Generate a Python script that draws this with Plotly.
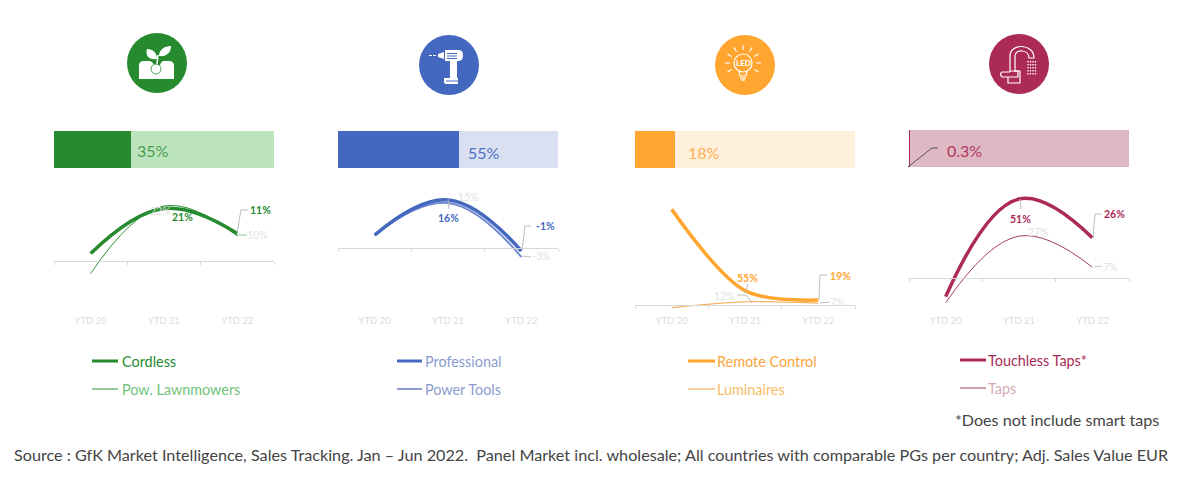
import re, math
import plotly.graph_objects as go

W, H = 1188, 490
periods = ["YTD 20", "YTD 21", "YTD 22"]

cordless = [3, 21, 11]
lawnmowers = [-5, 22, 10]
professional = [4.3, 16, -1]
power_tools = [4.3, 15, -3]
remote_control = [365, 55, 19]
luminaires = [-10, 12, 7]
touchless_taps = [-12, 51, 26]
taps = [-16, 27, 7]

shares = [35, 55, 18, 0.3]
share_labels = ["35%", "55%", "18%", "0.3%"]
thick_names = ["Cordless", "Professional", "Remote Control", "Touchless Taps*"]
thin_names = ["Pow. Lawnmowers", "Power Tools", "Luminaires", "Taps"]

dark = ["#268b2f", "#4468bf", "#ffa530", "#ac2a57"]
light = ["#bde5bd", "#d9e0f1", "#ffefdd", "#deb9c3"]
thin_col = ["#2f8f38", "#6f8ad0", "#f5a53f", "#a83a60"]
share_col = ["#47994f", "#4f70c2", "#ffb055", "#b5345f"]
thick_text = ["#268b2f", "#8b9dd0", "#f8a63c", "#a62b56"]
thin_text = ["#70c47a", "#8b9dd0", "#f9bd69", "#d5aab9"]

thick = [cordless, professional, remote_control, touchless_taps]
thin = [lawnmowers, power_tools, luminaires, taps]

# layout geometry in pixels
left = [54, 338, 635, 909]
pw = 220
axis_y = [261, 248, 305, 278]
scale = [2.5, 3.0, 0.262, 1.55]
smooth = [1.2, 1.2, 0.9, 1.2]
plot_top = 180
plot_bottom = 318
bar_top = [131, 131, 131, 130]
bar_h = 37
tick_y = 321


def fx(p):
    return p / W


def fy(p):
    return 1 - p / H


fig = go.Figure()
layout = dict(
    width=W, height=H, margin=dict(l=0, r=0, t=0, b=0),
    paper_bgcolor="white", plot_bgcolor="rgba(0,0,0,0)",
    showlegend=False, barmode="stack", bargap=0,
    font=dict(family="Lato", color="#444444"),
)
ann = []
shapes = []

for i in range(4):
    a = 2 * i + 1
    b = 2 * i + 2
    xa, ya = f"x{a}", f"y{a}"
    xb, yb = f"x{b}", f"y{b}"
    # share bar
    fig.add_trace(go.Bar(y=["s"], x=[shares[i]], orientation="h", marker=dict(color=dark[i], line_width=0),
                         xaxis=xa, yaxis=ya, hoverinfo="skip"))
    fig.add_trace(go.Bar(y=["s"], x=[100 - shares[i]], orientation="h", marker=dict(color=light[i], line_width=0),
                         xaxis=xa, yaxis=ya, hoverinfo="skip"))
    layout[f"xaxis{a}"] = dict(domain=[fx(left[i]), fx(left[i] + pw)], range=[0, 100], visible=False, anchor=ya)
    layout[f"yaxis{a}"] = dict(domain=[fy(bar_top[i] + bar_h), fy(bar_top[i])], visible=False, anchor=xa,
                               range=[-0.5, 0.5])
    # lines
    fig.add_trace(go.Scatter(x=periods, y=thin[i], mode="lines", name=thin_names[i],
                             line=dict(color=thin_col[i], width=2 if i == 1 else 1, shape="spline",
                                       smoothing=smooth[i]),
                             xaxis=xb, yaxis=yb))
    fig.add_trace(go.Scatter(x=periods, y=thick[i], mode="lines", name=thick_names[i],
                             line=dict(color=dark[i], width=3.5, shape="spline", smoothing=smooth[i]),
                             xaxis=xb, yaxis=yb))
    layout[f"xaxis{b}"] = dict(
        domain=[fx(left[i]), fx(left[i] + pw)], anchor="free", position=fy(axis_y[i]), type="category",
        categoryorder="array", categoryarray=periods, range=[-0.5, 2.5],
        tickson="boundaries", ticks="outside", ticklen=3, tickcolor="#d9d9d9", tickwidth=1,
        showline=True, linecolor="#d9d9d9", linewidth=1, showgrid=False, zeroline=False,
        tickfont=dict(family="Lato", size=9.5, color="#dcdcdc"),
        ticklabelstandoff=int(tick_y - axis_y[i] - 9),
    )
    layout[f"yaxis{b}"] = dict(
        domain=[fy(plot_bottom), fy(plot_top)], anchor=xb,
        range=[-(plot_bottom - axis_y[i]) / scale[i], (axis_y[i] - plot_top) / scale[i]], visible=False,
    )


def text(x, y, s, color, size, anchor="center", bold=False):
    ann.append(dict(xref="paper", yref="paper", x=fx(x), y=fy(y), text=f"<b>{s}</b>" if bold else s,
                    showarrow=False, xanchor=anchor, yanchor="middle",
                    font=dict(family="Lato", size=size, color=color)))


# share labels
for (x, y), s, c in zip([(153, 150), (484, 153), (704, 153), (964, 150)], share_labels, share_col):
    text(x, y, s, c, 16)

# point labels: x, y, text, panel
strong = [(182, 217, "21%", 0), (260, 210, "11%", 0),
          (448, 218, "16%", 1), (545, 226, "-1%", 1),
          (747, 278, "55%", 2), (840, 276, "19%", 2),
          (1020, 219, "51%", 3), (1114, 214, "26%", 3)]
pale = [(160, 211, "22%"), (257, 235, "10%"), (468, 197, "15%"), (541, 256, "-3%"),
        (724, 296, "12%"), (837, 302, "7%"), (1038, 232, "27%"), (1110, 267, "7%")]
for x, y, s in pale:
    text(x, y, s, "#e2e2e2", 10.5)
for x, y, s, p in strong:
    text(x, y, s, dark[p], 10.5, bold=True)


def px_path(d, cx=0, cy=0):
    out = []
    n = 0
    for t in d.split():
        if re.fullmatch(r"[A-Za-z]", t):
            out.append(t)
        else:
            v = float(t)
            out.append(f"{fx(cx + v):.5f}" if n % 2 == 0 else f"{fy(cy + v):.5f}")
            n += 1
    res = []
    i = 0
    while i < len(out):
        if re.fullmatch(r"[A-Za-z]", out[i]):
            res.append(out[i])
            i += 1
        else:
            res.append(out[i] + "," + out[i + 1])
            i += 2
    return " ".join(res)


def stroke(d, color, width=1, cx=0, cy=0, dash=None):
    ln = dict(color=color, width=width)
    if dash:
        ln["dash"] = dash
    shapes.append(dict(type="path", xref="paper", yref="paper", path=px_path(d, cx, cy), line=ln,
                       fillcolor="rgba(0,0,0,0)"))


def fill(d, color, cx=0, cy=0):
    shapes.append(dict(type="path", xref="paper", yref="paper", path=px_path(d, cx, cy),
                       line=dict(width=0), fillcolor=color))


def circle(cx, cy, r, fc, lc=None, lw=0):
    shapes.append(dict(type="circle", xref="paper", yref="paper", x0=fx(cx - r), x1=fx(cx + r),
                       y0=fy(cy + r), y1=fy(cy - r), fillcolor=fc,
                       line=dict(color=lc or fc, width=lw)))


# leaders
lead = "#bdbdbd"
for d in ["M 237 233 L 241 210 L 248 210", "M 448 199 L 449 209", "M 522 250 L 525 226 L 531 226",
          "M 748 284 L 745 293", "M 819 300 L 820 275 L 827 275",
          "M 1020 199 L 1021 209", "M 1093 238 L 1095 214 L 1102 214"]:
    stroke(d, lead, 1)
stroke("M 752 303 L 746 295 L 737 295", lead, 1)
stroke("M 237 235 L 247 235", "#8cc596", 1)
stroke("M 522 256 L 531 257", lead, 1)
stroke("M 820 303 L 830 302", lead, 1)
stroke("M 1094 267 L 1102 266", "#b9c9c9", 1)
stroke("M 908 167 L 932 148 L 938 148", "#555555", 1)

# icons
W_ = "white"
# plant
c = (157, 63)
circle(*c, 30, dark[0])
fill("M -18 16 L -18 3 Q -18 -2 -13 -2 L -7 -2 Q -4 -1 -3 2 L 3 2 Q 4 -1 6 -2 L 12 -2 Q 17 -2 17 3 L 17 16 Z", W_, *c)
circle(c[0] - 1, c[1] + 6, 5, "white", dark[0], 0.8)
fill("M 0 -4 C -8 -3 -12 -7 -10 -14 C -4 -14 0 -10 0 -4 Z", W_, *c)
fill("M 2 -7 C 2 -13 7 -17 14 -17 C 14 -10 9 -6 2 -7 Z", W_, *c)
stroke("M 1 -8 L 0 1", W_, 1.5, *c)
# drill
c = (449, 65)
circle(*c, 30, dark[1])
fill("M -4 -15 L 9 -15 Q 14 -15 14 -10 Q 14 -4 9 -4 L -4 -4 Z", W_, *c)
fill("M -5 -13 L -5 -6 L -11 -8 L -11 -11 Z", W_, *c)
stroke("M -20 -9.5 L -12 -9.5", W_, 1.2, *c, dash="3px,1px")
for yy in (-11.5, -9, -6.5):
    stroke(f"M -2 {yy} L 8 {yy}", dark[1], 1, *c)
fill("M 1 -4 L 8 -4 L 8 13 L 1 13 Z", W_, *c)
fill("M -5 13 L 9 13 L 9 19 L -3 19 Q -5 19 -5 16 Z", W_, *c)
stroke("M -3 16 L 9 16", dark[1], 1, *c)
# LED bulb
c = (745, 65)
circle(*c, 30, dark[2])
circle(c[0] - 2, c[1] - 2, 9, "rgba(0,0,0,0)", W_, 1.2)
stroke("M -6 6 L -5 11 L 1 11 L 2 6", W_, 1.2, *c)
stroke("M -5 13 L 1 13", W_, 1.2, *c)
stroke("M -4 15 L 0 15", W_, 1.2, *c)
for deg in (-180, -150, -120, -90, -60, -30, 0, 30, 150):
    ca, sa = math.cos(math.radians(deg)), math.sin(math.radians(deg))
    r0, r1 = 13, 18
    stroke(f"M {-2 + r0 * ca:.1f} {-2 + r0 * sa:.1f} L {-2 + r1 * ca:.1f} {-2 + r1 * sa:.1f}", W_, 1.1, *c)
text(c[0] - 2, c[1] - 2, "LED", W_, 8, bold=True)
# tap
c = (1019, 64)
circle(*c, 30, dark[3])
stroke("M -9 8 L -9 -8 C -9 -21 15 -21 15 -6 L 10 -6 C 10 -15 -4 -15 -4 -8 L -4 8", W_, 1.2, *c)
stroke("M -9 8 L -17 8 Q -20 10 -17 13 L -1 13 L -1 7 L -9 7", W_, 1.2, *c)
stroke("M -11 13 L -11 19 L 1 19 L 1 7 L -4 7", W_, 1.2, *c)
for xx in (9, 11.5, 14, 16.5):
    stroke(f"M {xx} -3 L {xx} 11", W_, 1.3, *c, dash="1.5px,1.5px")

# legend
leg_x = [(92, 118, 120), (397, 422, 423), (688, 715, 715), (960, 986, 986)]
leg_y = [(361, 389), (361, 389), (361, 389), (360, 388)]
for i in range(4):
    x0, x1, tx = leg_x[i]
    y0, y1 = leg_y[i]
    stroke(f"M {x0} {y0} L {x1} {y0}", dark[i], 3)
    stroke(f"M {x0} {y1} L {x1} {y1}", "#8b9dd0" if i == 1 else thin_col[i], 2 if i == 1 else 1)
    text(tx, y0, thick_names[i], thick_text[i], 14.4, anchor="left")
    text(tx, y1, thin_names[i], thin_text[i], 14.4, anchor="left")

text(953, 419, "*Does not include smart taps", "#444444", 16.1, anchor="left")
text(12, 454, "Source : GfK Market Intelligence, Sales Tracking. Jan – Jun 2022.  Panel Market incl. wholesale; "
     "All countries with comparable PGs per country; Adj. Sales Value EUR", "#444444", 16.2, anchor="left")

layout["annotations"] = ann
layout["shapes"] = shapes
fig.update_layout(**layout)
fig.write_html("out.html", config=dict(displayModeBar=False),
               post_script="document.body.style.margin='0';")
